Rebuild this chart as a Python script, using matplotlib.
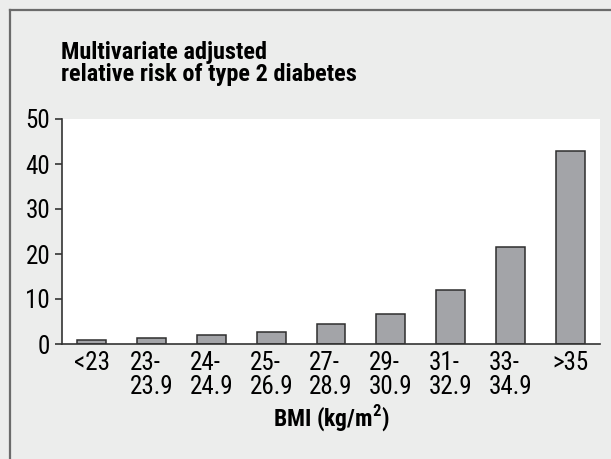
import matplotlib
matplotlib.use("Agg")
import matplotlib.pyplot as plt
from matplotlib.lines import Line2D

plt.rcParams['font.family'] = ['Roboto Condensed', 'Archivo Narrow', 'DejaVu Sans']
plt.rcParams['mathtext.fontset'] = 'custom'
plt.rcParams['mathtext.bf'] = 'Roboto Condensed:bold'

categories = ['<23', '23-\n23.9', '24-\n24.9', '25-\n26.9', '27-\n28.9',
              '29-\n30.9', '31-\n32.9', '33-\n34.9', '>35']
risk = [0.8, 1.4, 2.0, 2.6, 4.4, 6.7, 12.0, 21.6, 43.0]
yticks = [0, 10, 20, 30, 40, 50]

W, H = 611, 459
fig = plt.figure(figsize=(W / 100, H / 100), dpi=100)
fig.patch.set_facecolor('#ecedec')

# frame line on top and left only
fig.add_artist(Line2D([10 / W, 10 / W], [0, 1 - 10 / H], color='#6b6b6b', lw=1.6))
fig.add_artist(Line2D([10 / W, 1], [1 - 10 / H, 1 - 10 / H], color='#6b6b6b', lw=1.6))

ax = fig.add_axes([62 / W, (H - 344) / H, 538 / W, 225 / H])
ax.set_facecolor('white')

x = range(len(categories))
ax.bar(x, risk, width=0.485, color='#a3a4a8', edgecolor='#2e2e2e', linewidth=1.1)

ax.set_xlim(-0.5, 8.5)
ax.set_ylim(0, 50)
ax.set_yticks(yticks)
ax.set_xticks(list(x))
ax.set_xticklabels(categories, multialignment='left', linespacing=1.02)

for s in ['top', 'right']:
    ax.spines[s].set_visible(False)
for s in ['left', 'bottom']:
    ax.spines[s].set_color('#333333')
    ax.spines[s].set_linewidth(1.2)

ax.tick_params(axis='y', length=5, width=1.2, color='#333333', pad=3.5, labelsize=18)
ax.tick_params(axis='x', length=0, pad=5, labelsize=18)

ax.set_xlabel('BMI (kg/m$^{\\mathbf{2}}$)', fontsize=17, fontweight='bold', labelpad=3)

fig.text(61 / W, 1 - 41 / H, 'Multivariate adjusted\nrelative risk of type 2 diabetes',
         fontsize=17.5, fontweight='bold', ha='left', va='top', linespacing=0.97)

fig.savefig('out.png', dpi=100, facecolor=fig.get_facecolor())
